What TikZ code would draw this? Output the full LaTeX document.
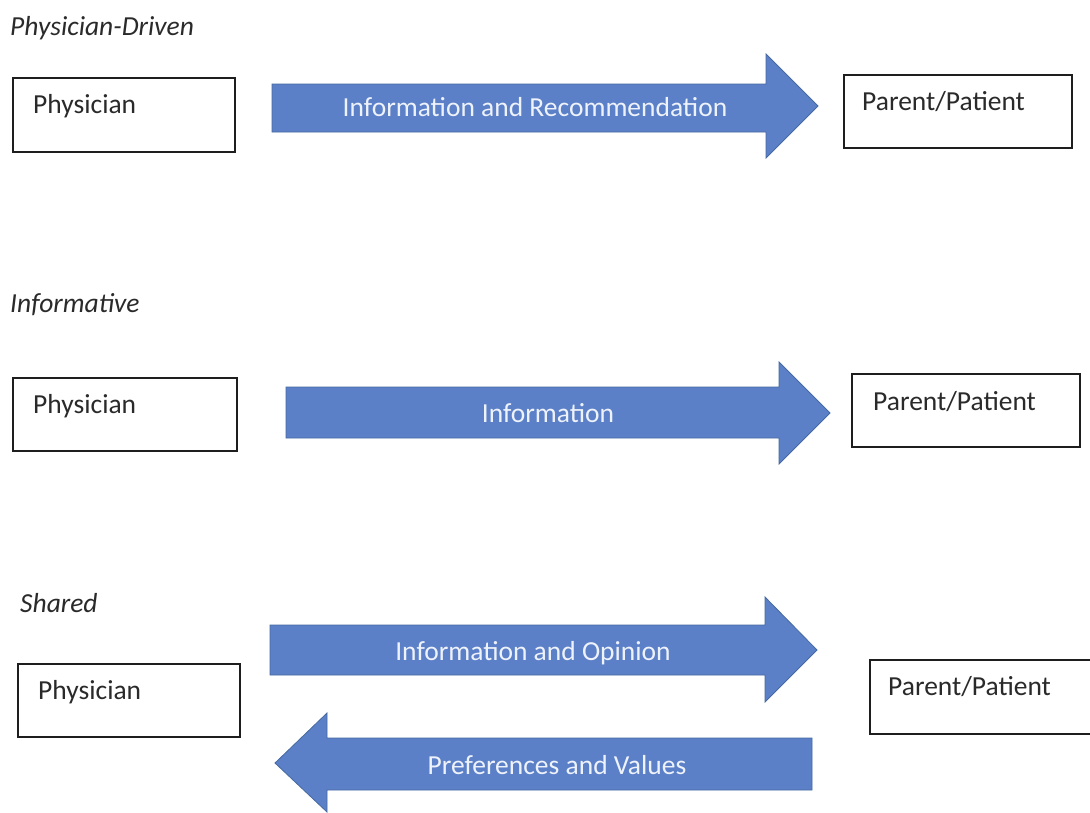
\documentclass[tikz,border=0pt]{standalone}
\usepackage{fontspec}
\setmainfont{Carlito}
\definecolor{arrowfill}{HTML}{5B80C8}
\definecolor{arrowedge}{HTML}{46699F}
\definecolor{arrowtext}{HTML}{EEF2FA}
\definecolor{boxline}{HTML}{1E1E1E}
\definecolor{labeltext}{HTML}{2A2A2A}
\begin{document}
\begin{tikzpicture}[x=1pt,y=-1pt,
  box/.style={draw=boxline,line width=2pt,fill=white},
  boxtext/.style={anchor=base west,inner sep=0pt,font=\fontsize{27.5}{31}\selectfont,text=labeltext},
  title/.style={anchor=base west,inner sep=0pt,font=\fontsize{27.5}{31}\selectfont\itshape,text=labeltext},
  blockarrow/.style={fill=arrowfill,draw=arrowedge,line width=0.8pt,line join=miter},
  arrowlabel/.style={anchor=base,inner sep=0pt,font=\fontsize{27.5}{31}\selectfont,text=arrowtext}]
\useasboundingbox (0,0) rectangle (1090,812);
\fill[white] (0,0) rectangle (1090,812);

% ---------- Physician-Driven ----------
\node[title] (t1) at (10,35) {Physician-Driven};
\draw[box] (13,78) rectangle (235,152);
\node[boxtext] (ph1) at (33,113) {Physician};
\draw[box] (844,75) rectangle (1072,148);
\node[boxtext] (pp1) at (862,110) {Parent/Patient};
\draw[blockarrow] (272,84) -- (766,84) -- (766,54) -- (818,106) -- (766,158) -- (766,132) -- (272,132) -- cycle;
\node[arrowlabel] (a1) at (535,116) {Information and Recommendation};

% ---------- Informative ----------
\node[title] (t2) at (10,312) {Informative};
\draw[box] (13,378) rectangle (237,451);
\node[boxtext] (ph2) at (33,413) {Physician};
\draw[box] (852,374) rectangle (1080,447);
\node[boxtext] (pp2) at (873,410) {Parent/Patient};
\draw[blockarrow] (286,387) -- (779,387) -- (779,362) -- (830,413) -- (779,464) -- (779,438) -- (286,438) -- cycle;
\node[arrowlabel] (a2) at (548,422) {Information};

% ---------- Shared ----------
\node[title] (t3) at (20,612) {Shared};
\draw[box] (18,664) rectangle (240,737);
\node[boxtext] (ph3) at (38,699) {Physician};
\draw[box] (870,660) rectangle (1095,734);
\node[boxtext] (pp3) at (888,695) {Parent/Patient};
\draw[blockarrow] (270,625) -- (765,625) -- (765,597) -- (817,650) -- (765,702) -- (765,675) -- (270,675) -- cycle;
\node[arrowlabel] (a3) at (533,660) {Information and Opinion};
\draw[blockarrow] (812,738) -- (327,738) -- (327,713) -- (275,763) -- (327,812) -- (327,790) -- (812,790) -- cycle;
\node[arrowlabel] (a4) at (557,774) {Preferences and Values};
\end{tikzpicture}
\end{document}
